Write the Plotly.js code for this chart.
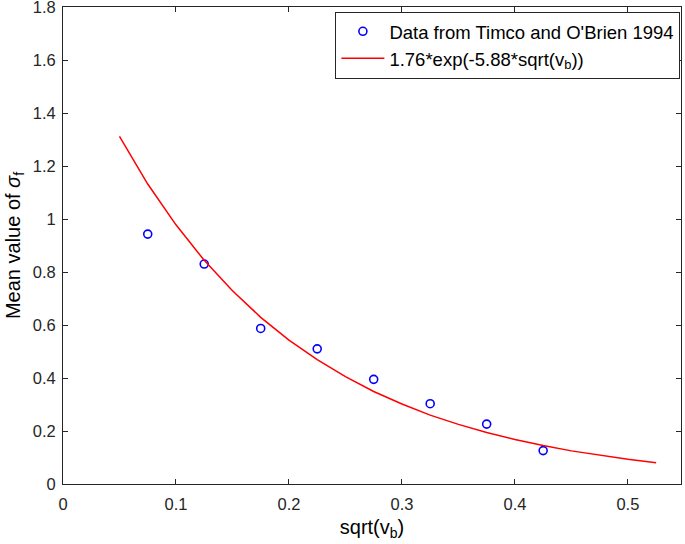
<!DOCTYPE html>
<html>
<head>
<meta charset="utf-8">
<script src="https://cdn.plot.ly/plotly-3.0.1.min.js"></script>
<style>html,body{margin:0;padding:0;background:#fff;}#chart{width:685px;height:544px;}</style>
</head>
<body>
<div id="chart"></div>
<script>
const dataX = [0.075, 0.125, 0.175, 0.225, 0.275, 0.325, 0.375, 0.425];
const dataY = [0.943, 0.830, 0.587, 0.510, 0.395, 0.303, 0.226, 0.126];
const fitX = [0.05, 0.075, 0.1, 0.125, 0.15, 0.175, 0.2, 0.225, 0.25, 0.275, 0.3, 0.325, 0.35, 0.375, 0.4, 0.425, 0.45, 0.475, 0.5, 0.525];
const fitY = [1.312, 1.132, 0.978, 0.844, 0.729, 0.629, 0.543, 0.469, 0.405, 0.349, 0.302, 0.260, 0.225, 0.194, 0.168, 0.145, 0.125, 0.108, 0.093, 0.080];
const xTicks = [0, 0.1, 0.2, 0.3, 0.4, 0.5];
const xTickText = ['0', '0.1', '0.2', '0.3', '0.4', '0.5'];
const yTicks = [0, 0.2, 0.4, 0.6, 0.8, 1, 1.2, 1.4, 1.6, 1.8];
const yTickText = ['0', '0.2', '0.4', '0.6', '0.8', '1', '1.2', '1.4', '1.6', '1.8'];

const font = 'Liberation Sans, Arial, sans-serif';
const traces = [
  {x: dataX, y: dataY, mode: 'markers', type: 'scatter', name: 'Data from Timco and O\'Brien 1994',
   marker: {symbol: 'circle-open', size: 8, color: '#0000ff', line: {color: '#0000ff', width: 1.6}}},
  {x: fitX, y: fitY, mode: 'lines', type: 'scatter', name: '1.76*exp(-5.88*sqrt(v<sub>b</sub>))',
   line: {color: '#ff0000', width: 1.5}}
];
const axisCommon = {
  showline: true, linecolor: '#262626', linewidth: 1, mirror: 'ticks',
  ticks: 'inside', ticklen: 5, tickcolor: '#262626', tickwidth: 1,
  showgrid: false, zeroline: false, ticklabeloverflow: 'allow',
  tickfont: {family: font, size: 16.5, color: '#262626'}
};
const layout = {
  width: 685, height: 544,
  margin: {l: 63, r: 4, t: 7, b: 60},
  paper_bgcolor: '#fff', plot_bgcolor: '#fff',
  showlegend: true,
  legend: {x: 0.999, xanchor: 'right', y: 0.99, yanchor: 'top',
    bordercolor: '#262626', borderwidth: 1, bgcolor: '#fff', itemwidth: 43,
    font: {family: font, size: 18.5, color: '#000'}, tracegroupgap: 0},
  xaxis: Object.assign({}, axisCommon, {range: [0, 0.547], tickvals: xTicks, ticktext: xTickText,
    ticklabelstandoff: 5,
    title: {text: 'sqrt(v<sub>b</sub>)', font: {family: font, size: 20, color: '#000'}, standoff: 8}}),
  yaxis: Object.assign({}, axisCommon, {range: [0, 1.8], tickvals: yTicks, ticktext: yTickText,
    ticklabelstandoff: 3,
    title: {text: 'Mean value of <i>σ</i><sub>f</sub>', font: {family: font, size: 20, color: '#000'}, standoff: 6}})
};
Plotly.newPlot('chart', traces, layout, {displayModeBar: false, staticPlot: true});
</script>
</body>
</html>
